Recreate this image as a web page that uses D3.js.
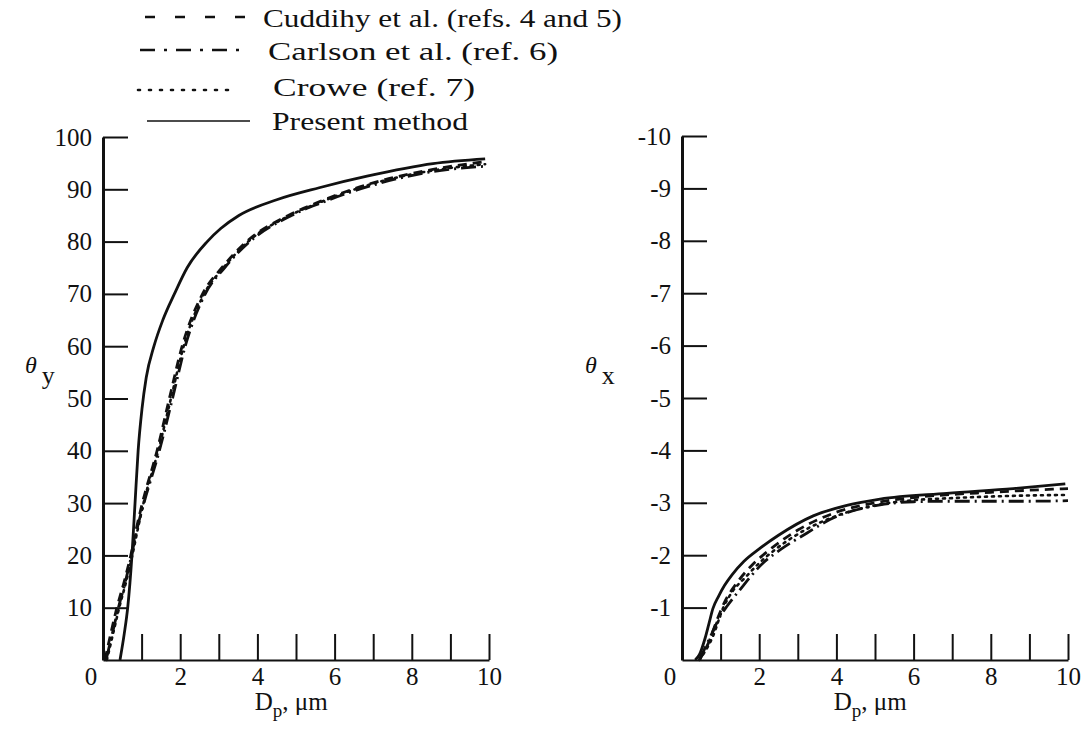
<!DOCTYPE html>
<html>
<head>
<meta charset="utf-8">
<script src="https://cdn.jsdelivr.net/npm/d3@7"></script>
<style>
  body { margin: 0; background: #fff; }
  svg { display: block; }
  text { font-family: "Liberation Serif", "DejaVu Serif", serif; fill: #111; }
</style>
</head>
<body>
<svg id="chart" width="1088" height="731"></svg>
<script>
// series names, in legend order
const seriesNames = ["Cuddihy et al. (refs. 4 and 5)", "Carlson et al. (ref. 6)", "Crowe (ref. 7)", "Present method"];

// theta_y vs particle diameter (left panel)
const thetaYCuddihy = [[0.05,0],[0.2,5],[0.36,10],[0.55,15],[0.72,20],[0.86,25],[1.02,30],[1.4,40],[1.72,50],[2.05,60],[2.58,70],[3.08,75],[3.72,80],[4.8,85],[5.6,87.6],[6.84,90.9],[8.55,93.8],[9.9,95.3]];
const thetaYCarlson = [[0.08,0],[0.24,5],[0.4,10],[0.58,15],[0.74,20],[0.88,25],[1.06,30],[1.46,40],[1.8,50],[2.13,60],[2.65,70],[3.15,75],[3.8,80],[4.88,85],[5.65,87.4],[6.9,90.6],[8.55,93.4],[9.9,94.4]];
const thetaYCrowe = [[0.1,0],[0.26,5],[0.42,10],[0.6,15],[0.76,20],[0.9,25],[1.05,30],[1.43,40],[1.76,50],[2.09,60],[2.62,70],[3.12,75],[3.76,80],[4.84,85],[5.62,87.5],[6.86,90.8],[8.55,93.6],[9.9,94.8]];
const thetaYPresent = [[0.44,0],[0.55,5],[0.64,10],[0.75,20],[0.83,30],[0.91,40],[1.01,48],[1.12,54],[1.32,60],[1.55,65],[1.85,70],[2.18,75],[2.7,80],[3.05,82.5],[3.52,85],[4.5,88],[5.6,90.3],[6.84,92.5],[8.55,94.9],[9.9,95.8]];

// theta_x vs particle diameter (right panel)
const thetaXCuddihy = [[0.45,0],[0.7,-0.35],[0.9,-0.75],[1.1,-1.1],[1.4,-1.45],[1.8,-1.8],[2.3,-2.12],[3.0,-2.48],[4.0,-2.82],[5.0,-3.0],[6.0,-3.1],[7.0,-3.16],[8.0,-3.2],[9.0,-3.24],[10,-3.27]];
const thetaXCarlson = [[0.45,0],[0.77,-0.5],[1.0,-0.85],[1.16,-1.02],[1.5,-1.34],[2.1,-1.85],[2.54,-2.1],[3.23,-2.42],[3.83,-2.68],[5.13,-2.96],[6.0,-3.02],[7,-3.03],[8,-3.03],[9,-3.03],[10,-3.04]];
const thetaXCrowe = [[0.45,0],[0.8,-0.45],[1.07,-1.0],[1.3,-1.3],[1.66,-1.59],[2.0,-1.85],[2.4,-2.1],[2.95,-2.38],[4.0,-2.75],[5.0,-2.95],[6.0,-3.05],[7,-3.09],[8,-3.12],[9,-3.14],[10,-3.15]];
const thetaXPresent = [[0.34,0],[0.45,-0.1],[0.6,-0.42],[0.7,-0.7],[0.8,-0.98],[0.95,-1.22],[1.1,-1.42],[1.3,-1.63],[1.6,-1.88],[2.0,-2.12],[2.5,-2.38],[3.4,-2.75],[4.27,-2.95],[5.13,-3.07],[6.86,-3.18],[8.58,-3.27],[9.93,-3.36]];

// ticks
const xTicks = [1,2,3,4,5,6,7,8,9,10];
const yTicksLeft = [10,20,30,40,50,60,70,80,90,100];
const yTicksRight = [-1,-2,-3,-4,-5,-6,-7,-8,-9,-10];

const dashes = ["9,6", "15,5,2,5", "2,5", null];

const svg = d3.select("#chart");

function drawPanel(xs, ys, yTicks, seriesData, yLabelSub, yLabelX) {
    const g = svg.append("g");
    const [x0, x1] = xs.range();
    const [y0, y1] = ys.range();

    // x axis, ticks pointing up
    const xAxis = g.append("g")
        .attr("transform", `translate(0,${y0})`)
        .call(d3.axisBottom(xs).tickValues(xTicks).tickSize(-26).tickSizeOuter(0).tickPadding(7)
            .tickFormat(d => d % 2 === 0 ? d : ""));
    xAxis.select(".domain").attr("stroke", "#111").attr("stroke-width", 2);
    xAxis.selectAll(".tick line").attr("stroke", "#111").attr("stroke-width", 2);
    xAxis.selectAll("text").style("font-size", "25px").attr("fill", "#111");

    // y axis, ticks pointing right; plain hyphen for the negative labels
    const yAxis = g.append("g")
        .attr("transform", `translate(${x0},0)`)
        .call(d3.axisLeft(ys).tickValues(yTicks).tickSize(-25).tickSizeOuter(0).tickPadding(11)
            .tickFormat(d => String(d)));
    yAxis.select(".domain").attr("stroke", "#111").attr("stroke-width", 3);
    yAxis.selectAll(".tick line").attr("stroke", "#111").attr("stroke-width", 2);
    yAxis.selectAll("text").style("font-size", "25px").attr("fill", "#111");

    // shared origin label
    g.append("text").attr("x", x0 - 12).attr("y", y0 + 25)
        .attr("text-anchor", "middle").style("font-size", "25px").text("0");

    // axis titles
    const xt = g.append("text").attr("x", xs(3.93)).attr("y", 710).style("font-size", "25px");
    xt.append("tspan").text("D");
    xt.append("tspan").attr("dy", 7).style("font-size", "19px").text("p");
    xt.append("tspan").attr("dy", -7).text(", \u03bcm");

    const yt = g.append("text").attr("x", yLabelX).attr("y", 373).style("font-size", "24px");
    yt.append("tspan").style("font-style", "italic").text("\u03b8");
    yt.append("tspan").attr("dx", 5).attr("dy", 11).style("font-size", "26px").text(yLabelSub);

    const line = d3.line().x(d => xs(d[0])).y(d => ys(d[1])).curve(d3.curveMonotoneX);
    seriesData.forEach((s, i) => {
        g.append("path")
            .datum(s)
            .attr("d", line)
            .attr("fill", "none")
            .attr("stroke", "#111")
            .attr("stroke-width", i === 2 ? 2.6 : 2.8)
            .attr("stroke-linecap", i === 2 ? "round" : "butt")
            .attr("stroke-dasharray", dashes[i]);
    });
}

const xLeft = d3.scaleLinear([0, 10], [103, 489]);
const yLeft = d3.scaleLinear([0, 100], [660, 137]);
const xRight = d3.scaleLinear([0, 10], [682, 1068]);
const yRight = d3.scaleLinear([0, -10], [660, 136]);

drawPanel(xLeft, yLeft, yTicksLeft, [thetaYCuddihy, thetaYCarlson, thetaYCrowe, thetaYPresent], "y", 25);
drawPanel(xRight, yRight, yTicksRight, [thetaXCuddihy, thetaXCarlson, thetaXCrowe, thetaXPresent], "x", 585);

// legend
const legendRows = [
    {x1: 145, x2: 247, ly: 17, tx: 263, ty: 27, w: 359},
    {x1: 140, x2: 242, ly: 50, tx: 268, ty: 60, w: 290},
    {x1: 138, x2: 233, ly: 90, tx: 273, ty: 96, w: 202},
    {x1: 147, x2: 250, ly: 121, tx: 272, ty: 130, w: 196}
];
const legendDashes = ["10,20", "15,9,3,9", "2,9", null];
const legend = svg.append("g");
legendRows.forEach((r, i) => {
    legend.append("line")
        .attr("x1", r.x1).attr("x2", r.x2).attr("y1", r.ly).attr("y2", r.ly)
        .attr("stroke", "#111").attr("stroke-width", i === 3 ? 1.6 : 2.6)
        .attr("stroke-linecap", i === 2 ? "round" : "butt")
        .attr("stroke-dasharray", legendDashes[i]);
    legend.append("text")
        .attr("x", r.tx).attr("y", r.ty)
        .attr("textLength", r.w).attr("lengthAdjust", "spacingAndGlyphs")
        .style("font-size", "25px")
        .text(seriesNames[i]);
});
</script>
</body>
</html>
